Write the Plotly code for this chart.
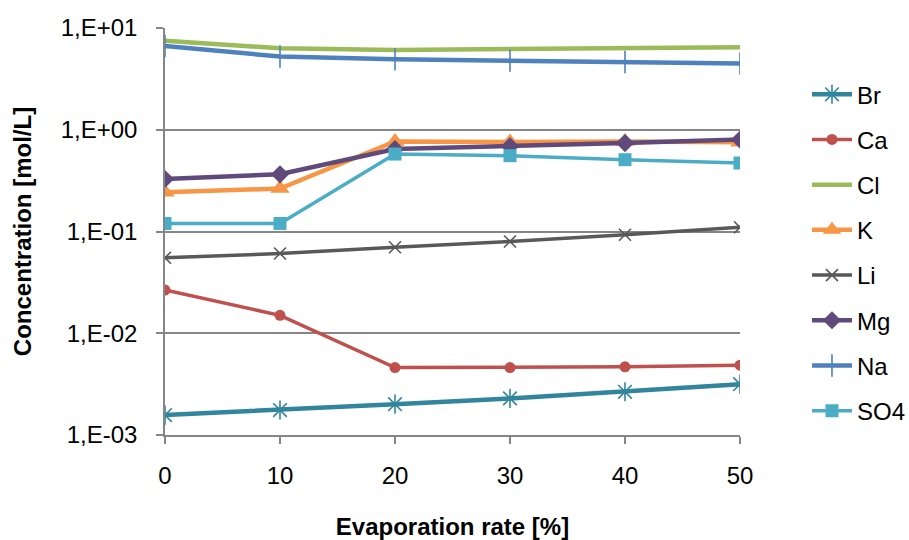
import plotly.graph_objects as go

# Evaporation rate [%]
evap = [0, 10, 20, 30, 40, 50]

# Concentrations [mol/L]
br = [0.00157, 0.00176, 0.00201, 0.00229, 0.00266, 0.00316]
ca = [0.0266, 0.0150, 0.0046, 0.0046, 0.00468, 0.00485]
cl = [7.5, 6.33, 6.08, 6.18, 6.33, 6.47]
k = [0.243, 0.264, 0.767, 0.757, 0.767, 0.752]
li = [0.0552, 0.0608, 0.0701, 0.0798, 0.0929, 0.110]
mg = [0.328, 0.365, 0.647, 0.687, 0.740, 0.80]
na = [6.67, 5.24, 4.93, 4.78, 4.64, 4.47]
so4 = [0.120, 0.120, 0.577, 0.556, 0.508, 0.471]

y_tickvals = [1e-3, 1e-2, 1e-1, 1e0, 1e1]
y_ticktext = ["1,E-03", "1,E-02", "1,E-01", "1,E+00", "1,E+01"]
x_tickvals = [0, 10, 20, 30, 40, 50]

series = [
    ("Br", br, "#31859C", 4.5, dict(symbol="asterisk-open", size=16, line=dict(width=1.6, color="#31859C"))),
    ("Ca", ca, "#C0504D", 3.5, dict(symbol="circle", size=11)),
    ("Cl", cl, "#9BBB59", 4.5, None),
    ("K", k, "#F79646", 4.5, dict(symbol="triangle-up", size=17)),
    ("Li", li, "#595959", 3.5, dict(symbol="x-thin-open", size=12, line=dict(width=1.6, color="#595959"))),
    ("Mg", mg, "#604A7B", 4.5, dict(symbol="diamond", size=14)),
    ("Na", na, "#4F81BD", 4.5, dict(symbol="cross-thin-open", size=16, line=dict(width=1.6, color="#4F81BD"))),
    ("SO4", so4, "#4BACC6", 3.5, dict(symbol="square", size=13)),
]

fig = go.Figure()
for name, vals, color, lw, marker in series:
    if marker is None:
        mode = "lines"
        mk = None
    else:
        mode = "lines+markers"
        mk = dict(color=color, **marker)
    fig.add_trace(go.Scatter(
        x=evap, y=vals, name=name, mode=mode,
        line=dict(color=color, width=lw),
        marker=mk, legendgroup=name,
    ))

fig.update_layout(
    width=909, height=540,
    margin=dict(l=165, r=169, t=28, b=105, autoexpand=False),
    paper_bgcolor="white", plot_bgcolor="white",
    font=dict(family="Liberation Sans, Arial, sans-serif", size=24, color="#000000"),
    legend=dict(
        xref="paper", yref="paper",
        x=1.1165, xanchor="left",
        y=0.448, yanchor="middle",
        font=dict(size=24),
        tracegroupgap=11,
        itemwidth=40,
        bgcolor="rgba(0,0,0,0)",
    ),
    showlegend=True,
)

fig.update_xaxes(
    range=[0, 50], tickvals=x_tickvals,
    showline=True, linecolor="#868686", linewidth=1.5,
    ticks="outside", ticklen=7, tickcolor="#868686", tickwidth=1.5,
    ticklabelstandoff=11,
    showgrid=False, zeroline=False, automargin=False,
    tickfont=dict(size=24),
    title=dict(text="<b>Evaporation rate [%]</b>", font=dict(size=24), standoff=34),
)
fig.update_yaxes(
    type="log", range=[-3, 1], tickvals=y_tickvals, ticktext=y_ticktext,
    showline=True, linecolor="#868686", linewidth=1.5,
    ticks="outside", ticklen=7, tickcolor="#868686", tickwidth=1.5,
    ticklabelstandoff=14,
    showgrid=True, gridcolor="#868686", gridwidth=1.5,
    zeroline=False, automargin=False,
    tickfont=dict(size=24),
    title=dict(text="<b>Concentration [mol/L]</b>", font=dict(size=24), standoff=22),
)

fig.write_html("out.html")
